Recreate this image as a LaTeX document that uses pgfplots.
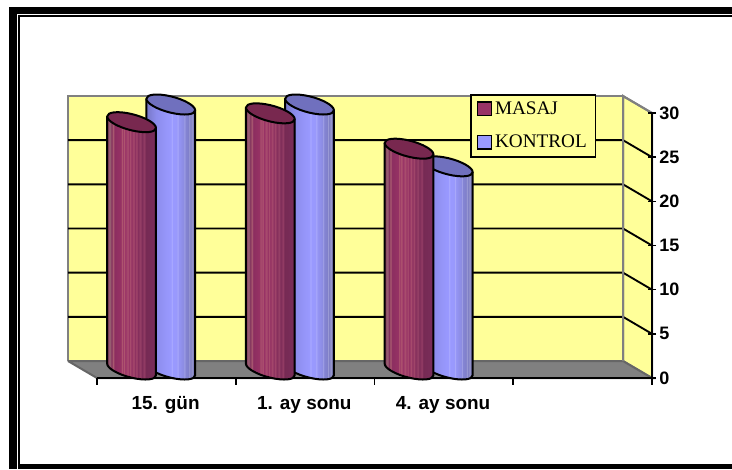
\documentclass[border=0pt]{standalone}
\usepackage{pgfplots}
\usepackage{pgfplotstable}
\usepackage{fontspec}
\setmainfont{Liberation Sans}
\newfontfamily\lser{Liberation Serif}
\pgfplotsset{compat=1.18}
\definecolor{wall}{HTML}{FFFF99}
\definecolor{floorc}{HTML}{808080}
\definecolor{masaj}{HTML}{993366}
\definecolor{kontrol}{HTML}{9999FF}
\definecolor{masajtop}{HTML}{78284F}
\definecolor{kontroltop}{HTML}{7070BE}
\pgfdeclarehorizontalshading{masajshade}{100bp}{
 color(0bp)=(rgb,255:red,126;green,48;blue,84);
 color(25bp)=(rgb,255:red,126;green,48;blue,84);
 color(27bp)=(rgb,255:red,150;green,92;blue,112);
 color(28bp)=(rgb,255:red,150;green,92;blue,112);
 color(29.5bp)=(rgb,255:red,130;green,48;blue,92);
 color(31bp)=(rgb,255:red,170;green,92;blue,112);
 color(32.5bp)=(rgb,255:red,140;green,46;blue,96);
 color(39bp)=(rgb,255:red,150;green,50;blue,100);
 color(40bp)=(rgb,255:red,178;green,92;blue,112);
 color(41bp)=(rgb,255:red,152;green,50;blue,102);
 color(42bp)=(rgb,255:red,178;green,90;blue,112);
 color(43.5bp)=(rgb,255:red,152;green,50;blue,102);
 color(46bp)=(rgb,255:red,170;green,78;blue,110);
 color(47.5bp)=(rgb,255:red,150;green,50;blue,100);
 color(48.5bp)=(rgb,255:red,170;green,78;blue,110);
 color(50bp)=(rgb,255:red,146;green,48;blue,98);
 color(52bp)=(rgb,255:red,166;green,74;blue,108);
 color(53.5bp)=(rgb,255:red,140;green,48;blue,96);
 color(55bp)=(rgb,255:red,162;green,70;blue,106);
 color(56.5bp)=(rgb,255:red,132;green,46;blue,92);
 color(59bp)=(rgb,255:red,150;green,64;blue,102);
 color(60.5bp)=(rgb,255:red,124;green,44;blue,88);
 color(63bp)=(rgb,255:red,146;green,60;blue,100);
 color(64.5bp)=(rgb,255:red,118;green,42;blue,84);
 color(75bp)=(rgb,255:red,122;green,46;blue,90);
 color(100bp)=(rgb,255:red,122;green,46;blue,90)}
\pgfdeclarehorizontalshading{kontrolshade}{100bp}{
 color(0bp)=(rgb,255:red,120;green,120;blue,200);
 color(25bp)=(rgb,255:red,120;green,120;blue,200);
 color(35bp)=(rgb,255:red,140;green,140;blue,236);
 color(45bp)=(rgb,255:red,150;green,150;blue,250);
 color(50bp)=(rgb,255:red,153;green,153;blue,255);
 color(51bp)=(rgb,255:red,172;green,172;blue,255);
 color(52bp)=(rgb,255:red,153;green,153;blue,255);
 color(56bp)=(rgb,255:red,153;green,153;blue,252);
 color(57bp)=(rgb,255:red,170;green,170;blue,250);
 color(58bp)=(rgb,255:red,148;green,148;blue,244);
 color(63bp)=(rgb,255:red,140;green,140;blue,226);
 color(64bp)=(rgb,255:red,160;green,160;blue,228);
 color(65bp)=(rgb,255:red,132;green,132;blue,212);
 color(68bp)=(rgb,255:red,128;green,128;blue,202);
 color(69bp)=(rgb,255:red,156;green,156;blue,214);
 color(70bp)=(rgb,255:red,126;green,126;blue,196);
 color(72bp)=(rgb,255:red,150;green,150;blue,204);
 color(73bp)=(rgb,255:red,124;green,124;blue,190);
 color(75bp)=(rgb,255:red,124;green,124;blue,190);
 color(100bp)=(rgb,255:red,124;green,124;blue,190)}
\pgfdeclareplotmark{nothing}{}
% One cylinder, drawn at its data point: #1 x shift in px, #2 shading, #3 top colour
\newcommand\cylpath[3]{%
  ({#1-24.41},{#2+5.74}) -- ({#1-24.41},{#3+5.74})
    .. controls ({#1-24.41},{#3+1.22}) and ({#1-13.48},{#3-5.02}) .. ({#1},{#3-8.19})
    .. controls ({#1+13.48},{#3-11.36}) and ({#1+24.41},{#3-10.26}) .. ({#1+24.41},{#3-5.74})
    -- ({#1+24.41},{#2-5.74})}
\newcommand\cylinder[3]{%
 \pgfmathsetmacro\b{8.5-\val*8.8333}%
 \begin{scope}[x=.75pt,y=.75pt]
  \shade[shading=#2] \cylpath{#1}{8.5}{\b} -- cycle;
  \draw[black,line width=1.5pt,line join=round] \cylpath{#1}{8.5}{\b};
  \filldraw[fill=#3,draw=black,line width=1.5pt,line join=round]
    ({#1-24.41},{8.5+5.74})
    .. controls ({#1-24.41},{8.5+1.22}) and ({#1-13.48},{8.5-5.02}) .. ({#1},{8.5-8.19})
    .. controls ({#1+13.48},{8.5-11.36}) and ({#1+24.41},{8.5-10.26}) .. ({#1+24.41},{8.5-5.74})
    .. controls ({#1+24.41},{8.5-1.22}) and ({#1+13.48},{8.5+5.02}) .. ({#1},{8.5+8.19})
    .. controls ({#1-13.48},{8.5+11.36}) and ({#1-24.41},{8.5+10.26}) .. ({#1-24.41},{8.5+5.74}) -- cycle;
 \end{scope}}
\pgfplotsset{cyl/.style n args={4}{scatter,only marks,mark=nothing,
  visualization depends on={\thisrow{#4} \as \val},
  scatter/@pre marker code/.code={\cylinder{#1}{#2}{#3}},
  scatter/@post marker code/.code={},forget plot}}
\pgfplotstableread{
x masaj kontrol
0 28 30
1 29 30
2 25 23
}\vals
\begin{document}
\begin{tikzpicture}
\useasboundingbox (0,0) rectangle (549pt,-351.75pt);
% outer frame
\fill[black] (6.75pt,-351.75pt) rectangle (12.75pt,-5.25pt);
\fill[black] (6.75pt,-10.5pt) rectangle (549pt,-5.25pt);
\fill[black] (13.5pt,-351.75pt) rectangle (15pt,-11.6pt);
\fill[black] (13.5pt,-13.1pt) rectangle (549pt,-11.6pt);
\fill[black] (13.5pt,-351.75pt) rectangle (549pt,-348pt);
\begin{axis}[
 at={(72.75pt,-283.5pt)},anchor=south west,
 scale only axis,width=416.25pt,height=198.75pt,
 xmin=-0.5,xmax=3.5,ymin=0,ymax=30,clip=false,axis on top,
 axis x line=bottom,axis y line=right,
 axis line style={-,black,line width=1.5pt},
 xtick={0,1,2,3},xticklabels={15. gün,1. ay sonu,4. ay sonu,},
 minor xtick={-0.5,0.5,1.5,2.5,3.5},
 ytick={0,5,...,30},
 xtick align=outside,ytick align=center,
 major tick length=6pt,minor tick length=5pt,
 major x tick style={draw=none},
 minor x tick style={black,line width=1.2pt},
 major y tick style={black,line width=1.2pt},
 tick label style={font=\bfseries\fontsize{13.5}{16}\selectfont,/pgf/number format/assume math mode=true},
 x tick label style={xshift=-0.6pt,yshift=-4pt,font=\bfseries\fontsize{14.2}{16}\selectfont},
 y tick label style={xshift=-1pt},
 legend cell align=left,
 legend style={at={(rel axis cs:0.672,1.0717)},anchor=north west,draw=black,line width=1.2pt,fill=wall,
   font=\lser\fontsize{14.4}{17}\selectfont,inner xsep=4.5pt,inner ysep=3.2pt,row sep=10pt,
   /tikz/every even column/.append style={column sep=0pt}},
]
\addlegendimage{legend image code/.code={\draw[fill=masaj,draw=black,line width=1.2pt] (0pt,-4.8pt) rectangle (10.5pt,5.2pt);}}
\addlegendentry{MASAJ}
\addlegendimage{legend image code/.code={\draw[fill=kontrol,draw=black,line width=1.2pt] (0pt,-4.8pt) rectangle (10.5pt,5.2pt);}}
\addlegendentry{KONTROL}
% walls and floor
\addplot[forget plot,fill=wall,draw=floorc,line width=1.5pt] coordinates {(-0.709,1.925) (3.291,1.925) (3.291,31.925) (-0.709,31.925) (-0.709,1.925)};
\addplot[forget plot,fill=wall,draw=floorc,line width=1.5pt] coordinates {(3.291,1.925) (3.5,0) (3.5,30) (3.291,31.925) (3.291,1.925)};
\addplot[forget plot,fill=floorc,draw=floorc!80!black,line width=1.5pt] coordinates {(-0.709,1.925) (3.291,1.925) (3.5,0) (-0.5,0) (-0.709,1.925)};
% grid lines
\addplot[forget plot,black,line width=1.4pt] coordinates {(-0.709,6.925) (3.291,6.925) (3.5,5)};
\addplot[forget plot,black,line width=1.4pt] coordinates {(-0.709,11.925) (3.291,11.925) (3.5,10)};
\addplot[forget plot,black,line width=1.4pt] coordinates {(-0.709,16.925) (3.291,16.925) (3.5,15)};
\addplot[forget plot,black,line width=1.4pt] coordinates {(-0.709,21.925) (3.291,21.925) (3.5,20)};
\addplot[forget plot,black,line width=1.4pt] coordinates {(-0.709,26.925) (3.291,26.925) (3.5,25)};
\addplot[forget plot,floorc,line width=1.5pt] coordinates {(3.291,1.925) (3.291,31.925) (3.5,30)};
% cylinders
\addplot[cyl={4.4}{kontrolshade}{kontroltop}{kontrol}] table[x=x,y=kontrol]{\vals};
\addplot[cyl={-34.8}{masajshade}{masajtop}{masaj}] table[x=x,y=masaj]{\vals};
\end{axis}
\end{tikzpicture}
\end{document}
